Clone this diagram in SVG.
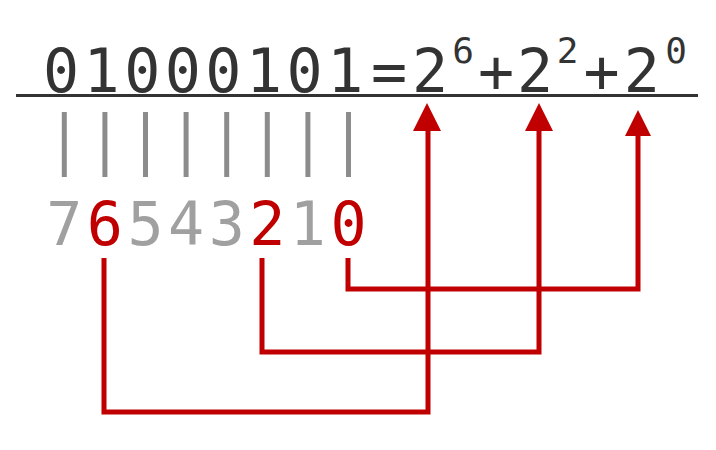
<svg xmlns="http://www.w3.org/2000/svg" width="716" height="450" viewBox="0 0 716 450">
<defs>
<style>
.t{font-family:"DejaVu Sans Mono","Liberation Mono",monospace;text-anchor:middle}
.main{fill:#333333;font-size:60px}
.sup{fill:#333333;font-size:36px}
.idx{fill:#a0a0a0;font-size:60px}
.red{fill:#c00000}
.tick{stroke:#8c8c8c;stroke-width:5}
.conn{fill:none;stroke:#c00000;stroke-width:5;stroke-linejoin:miter}
.head{fill:#c00000}
</style>
</defs>
<rect width="716" height="450" fill="#ffffff"/>
<g id="equation">
<text class="t main" x="61 101.6 142.2 182.8 223.4 264 304.6 345.2 389 430" y="92">01000101=2</text>
<text class="t sup" x="463" y="63">6</text>
<text class="t main" x="496 535" y="92">+2</text>
<text class="t sup" x="567.5" y="63">2</text>
<text class="t main" x="601.5 641.7" y="92">+2</text>
<text class="t sup" x="676" y="63">0</text>
<line x1="16" y1="95.5" x2="698" y2="95.5" stroke="#333333" stroke-width="3"/>
</g>
<g id="ticks">
<line class="tick" x1="64.3" y1="112" x2="64.3" y2="177"/>
<line class="tick" x1="104.9" y1="112" x2="104.9" y2="177"/>
<line class="tick" x1="145.5" y1="112" x2="145.5" y2="177"/>
<line class="tick" x1="186.1" y1="112" x2="186.1" y2="177"/>
<line class="tick" x1="226.7" y1="112" x2="226.7" y2="177"/>
<line class="tick" x1="267.3" y1="112" x2="267.3" y2="177"/>
<line class="tick" x1="307.9" y1="112" x2="307.9" y2="177"/>
<line class="tick" x1="348.5" y1="112" x2="348.5" y2="177"/>
</g>
<g id="indices">
<text class="t idx" x="64.3 104.9 145.5 186.1 226.7 267.3 307.9 348.5" y="245">7<tspan class="red">6</tspan>543<tspan class="red">2</tspan>1<tspan class="red">0</tspan></text>
</g>
<g id="connectors">
<path class="conn" d="M104 258 V412 H428 V128"/>
<path class="conn" d="M262 258 V352 H539 V128"/>
<path class="conn" d="M348 258 V289 H638 V133"/>
<polygon class="head" points="427,103 413,131 441,131"/>
<polygon class="head" points="539,103 525,131 553,131"/>
<polygon class="head" points="638,110 625,136 651,136"/>
</g>
</svg>
